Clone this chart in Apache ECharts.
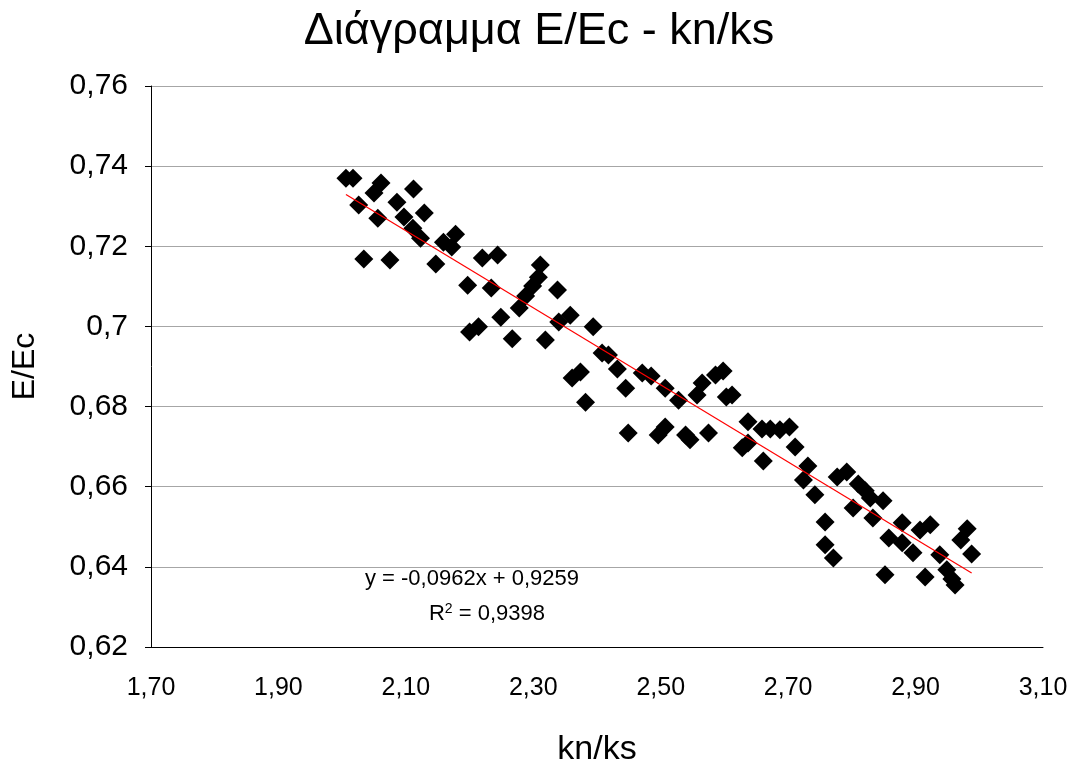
<!DOCTYPE html>
<html>
<head>
<meta charset="utf-8">
<script src="https://cdn.jsdelivr.net/npm/echarts@6/dist/echarts.min.js"></script>
<style>
html,body{margin:0;padding:0;background:#fff;}
#chart{width:1078px;height:772px;}
</style>
</head>
<body>
<div id="chart"></div>
<script>
// kn/ks values
var knks = [
2.006,2.017,2.026,2.034,2.050,2.061,2.056,2.075,2.086,2.112,
2.097,2.111,2.123,2.129,2.147,2.159,2.172,2.178,2.197,2.200,
2.214,2.220,2.244,2.234,2.249,2.267,2.278,2.288,2.299,2.308,
2.311,2.319,2.338,2.340,2.358,2.361,2.374,2.394,2.382,2.408,
2.418,2.432,2.445,2.449,2.471,2.485,2.496,2.507,2.507,2.528,
2.539,2.546,2.557,2.565,2.575,2.586,2.598,2.603,2.612,2.628,
2.637,2.637,2.659,2.672,2.687,2.702,2.661,2.711,2.731,2.724,
2.742,2.758,2.758,2.771,2.777,2.792,2.810,2.821,2.829,2.802,
2.849,2.833,2.858,2.879,2.879,2.896,2.907,2.923,2.852,2.915,
2.938,2.949,2.957,2.962,2.971,2.981,2.988
];
// E/Ec values
var eec = [
0.7370,0.7370,0.7303,0.7168,0.7333,0.7358,0.7270,0.7166,0.7310,0.7343,
0.7273,0.7245,0.7220,0.7283,0.7156,0.7210,0.7198,0.7230,0.7103,0.6986,
0.6999,0.7171,0.7178,0.7096,0.7023,0.6969,0.7046,0.7076,0.7101,0.7123,
0.7153,0.6966,0.7091,0.7011,0.7028,0.6871,0.6886,0.6999,0.6811,0.6934,
0.6929,0.6894,0.6846,0.6734,0.6884,0.6876,0.6729,0.6749,0.6846,0.6816,
0.6729,0.6717,0.6829,0.6859,0.6734,0.6879,0.6889,0.6824,0.6829,0.6697,
0.6709,0.6762,0.6744,0.6744,0.6742,0.6749,0.6664,0.6699,0.6652,0.6617,
0.6580,0.6512,0.6455,0.6422,0.6624,0.6637,0.6607,0.6590,0.6572,0.6547,
0.6565,0.6522,0.6472,0.6510,0.6460,0.6435,0.6492,0.6505,0.6380,0.6375,
0.6430,0.6393,0.6370,0.6355,0.6467,0.6495,0.6432
];
// linear trendline (as displayed on the chart)
var trendSlope = -0.0962;
var trendIntercept = 0.9259;
var r2 = 0.9398;
var xTicks = [1.70,1.90,2.10,2.30,2.50,2.70,2.90,3.10];
var yTicks = [0.62,0.64,0.66,0.68,0.70,0.72,0.74,0.76];

var points = knks.map(function(x,i){return [x, eec[i]];});
var xmin = Math.min.apply(null, knks), xmax = Math.max.apply(null, knks);
var trend = [[xmin, trendSlope*xmin+trendIntercept],[xmax, trendSlope*xmax+trendIntercept]];

function comma(s){return s.replace('.', ',');}

var chart = echarts.init(document.getElementById('chart'));
var FONT = 'Liberation Sans, Arial, sans-serif';
chart.setOption({
  backgroundColor:'#fff',
  animation:false,
  title:{
    text:'Διάγραμμα E/Ec - kn/ks',
    left:'center', top:4,
    textStyle:{fontFamily:FONT, fontSize:45, fontWeight:'normal', color:'#000'}
  },
  grid:{left:151, right:35, top:86, bottom:125},
  xAxis:{
    type:'value', min:1.70, max:3.10, interval:0.20,
    name:'kn/ks', nameLocation:'middle', nameGap:86,
    nameTextStyle:{fontFamily:FONT, fontSize:34, color:'#000'},
    axisLine:{show:true, onZero:false, lineStyle:{color:'#000', width:1}},
    axisTick:{show:false},
    axisLabel:{fontFamily:FONT, fontSize:25, color:'#000', margin:29,
      formatter:function(v){return comma(v.toFixed(2));}},
    splitLine:{show:false}
  },
  yAxis:{
    type:'value', min:0.62, max:0.76, interval:0.02,
    name:'E/Ec', nameLocation:'middle', nameGap:110, nameRotate:90,
    nameTextStyle:{fontFamily:FONT, fontSize:32, color:'#000'},
    axisLine:{show:true, lineStyle:{color:'#000', width:1}},
    axisTick:{show:true, length:6, lineStyle:{color:'#000'}},
    axisLabel:{fontFamily:FONT, fontSize:30, color:'#000', margin:23,
      formatter:function(v){return comma(String(parseFloat(v.toFixed(2))));}},
    splitLine:{show:true, lineStyle:{color:'#a6a6a6', width:1}}
  },
  series:[
    {
      type:'scatter', data:points, symbol:'diamond', symbolSize:19,
      itemStyle:{color:'#000', opacity:1}, z:2
    },
    {
      type:'line', data:trend, symbol:'none', z:3,
      lineStyle:{color:'#ff0000', width:1.2}
    }
  ],
  graphic:[
    {type:'text', x:472, y:568, style:{text:'y = -0,0962x + 0,9259', textAlign:'center', font:'22px '+FONT, fill:'#000'}},
    {type:'text', x:487, y:602, style:{
      text:'R{sup|2} = ' + comma(r2.toFixed(4)), textAlign:'center',
      font:'22px '+FONT, fill:'#000',
      rich:{sup:{fontSize:14, fontFamily:FONT, verticalAlign:'top', padding:[0,0,10,0]}}
    }}
  ]
});
</script>
</body>
</html>
